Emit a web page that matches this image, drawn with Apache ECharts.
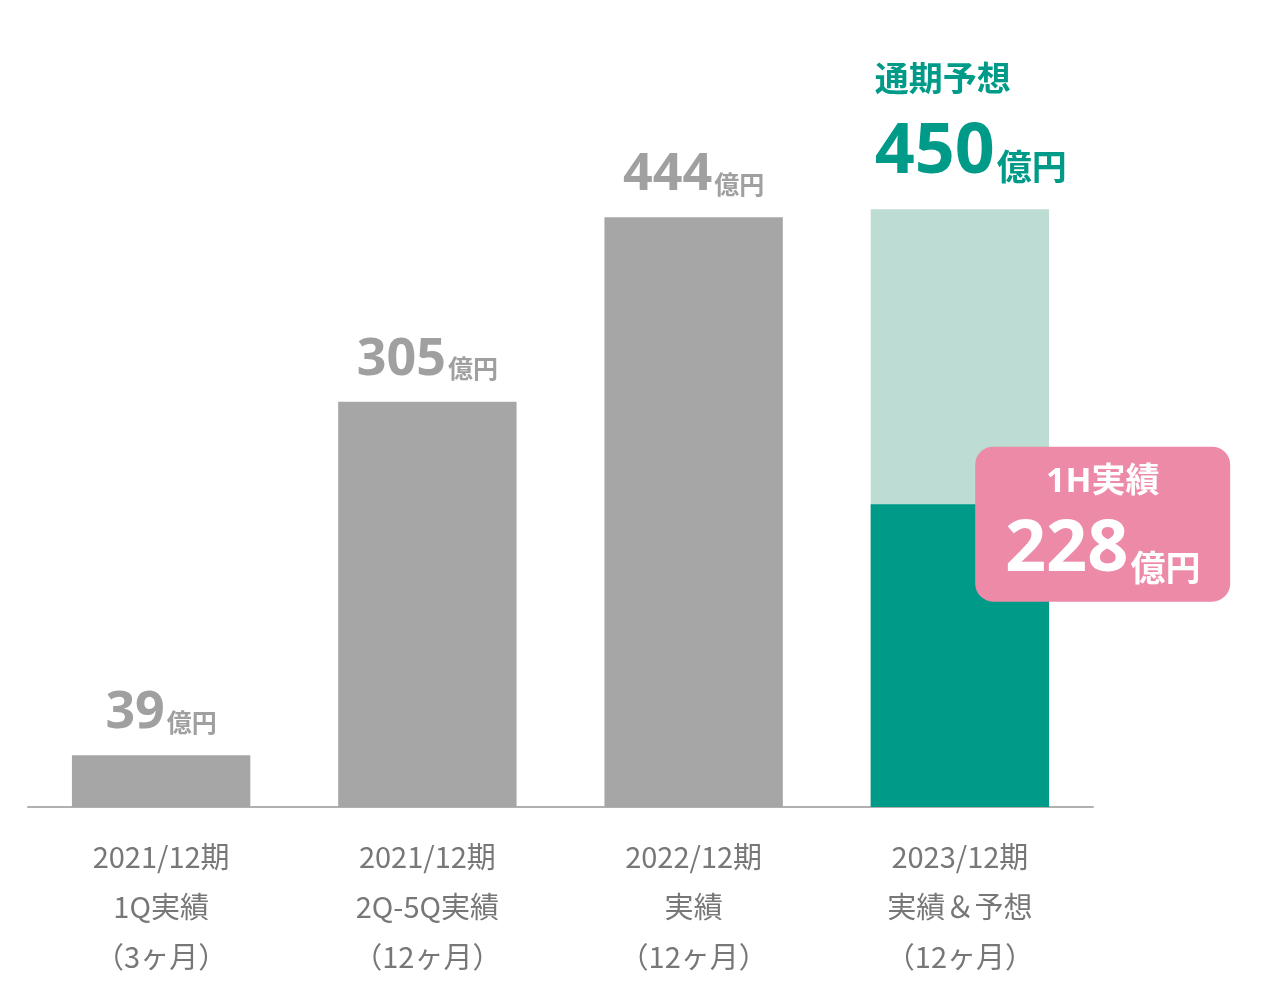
<!DOCTYPE html>
<html><head><meta charset="utf-8">
<script src="https://cdn.jsdelivr.net/npm/echarts@6/dist/echarts.min.js"></script>
<style>html,body{margin:0;padding:0;background:#fff}#c{width:1279px;height:998px}</style>
</head><body><div id="c"></div>
<script>
const categories = [
  '2021/12期\n1Q実績\n（3ヶ月）',
  '2021/12期\n2Q-5Q実績\n（12ヶ月）',
  '2022/12期\n実績\n（12ヶ月）',
  '2023/12期\n実績＆予想\n（12ヶ月）'
];
const totals = [39, 305, 444, 450];
const firstHalf = [null, null, null, 228];
const unit = '億円';
const forecastTitle = '通期予想';
const firstHalfTitle = '1H実績';

const GREY = '#a6a6a6', TEAL = '#009b88', LIGHT = '#bddcd4', PINK = '#ec8aa8';
const FF = '"Open Sans","Noto Sans CJK JP",sans-serif';
const last = totals.length - 1;

const chart = echarts.init(document.getElementById('c'));
chart.setOption({
  animation: false,
  grid: { left: 28, right: 186, top: 10, bottom: 191 },
  xAxis: {
    type: 'category', data: categories,
    axisLine: { lineStyle: { color: '#b0b0b0', width: 2 } },
    axisTick: { show: false },
    axisLabel: { color: '#777777', fontSize: 29, lineHeight: 50, margin: 25, fontWeight: 'normal',
      fontFamily: '"Noto Sans CJK JP",sans-serif' }
  },
  yAxis: { type: 'value', min: 0, max: 600, show: false, splitLine: { show: false } },
  series: [
    {
      type: 'bar', barWidth: '67%', barGap: '-100%',
      data: totals.map((v, i) => ({
        value: v,
        itemStyle: { color: i === last ? LIGHT : GREY },
        label: i === last ? {
          show: true, position: [4, -16], align: 'left', verticalAlign: 'bottom',
          formatter: '{t|' + forecastTitle + '}\n{n|{c}}{u|' + unit + '}',
          rich: {
            t: { color: TEAL, fontSize: 34, fontWeight: 'bold', fontFamily: FF, lineHeight: 64 },
            n: { color: TEAL, fontSize: 70, fontWeight: 'bold', fontFamily: FF, lineHeight: 80 },
            u: { color: TEAL, fontSize: 35, fontWeight: 'bold', fontFamily: FF, verticalAlign: 'bottom', padding: [0, 0, 6, 2] }
          }
        } : undefined
      })),
      label: {
        show: true, position: 'top', distance: 12,
        formatter: '{n|{c}}{u|' + unit + '}',
        rich: {
          n: { color: '#a0a0a0', fontSize: 52, fontWeight: 'bold', fontFamily: FF, lineHeight: 60 },
          u: { color: '#a0a0a0', fontSize: 25, fontWeight: 'bold', fontFamily: FF, verticalAlign: 'bottom', padding: [0, 0, 6, 2] }
        }
      }
    },
    {
      type: 'bar', barWidth: '67%',
      data: firstHalf,
      itemStyle: { color: TEAL },
      label: {
        show: true, position: [232, 20], align: 'center', verticalAlign: 'middle',
        backgroundColor: PINK, borderRadius: 18, width: 255,
        padding: [9, 0, 11, 0],
        formatter: '{a|' + firstHalfTitle + '}\n{n|{c}}{u|' + unit + '}',
        rich: {
          a: { color: '#fff', fontSize: 34, fontWeight: 'bold', fontFamily: FF, lineHeight: 54 },
          n: { color: '#fff', fontSize: 72, fontWeight: 'bold', fontFamily: FF, lineHeight: 81 },
          u: { color: '#fff', fontSize: 35, fontWeight: 'bold', fontFamily: FF, verticalAlign: 'bottom', padding: [0, 0, 2, 2] }
        }
      }
    }
  ]
});
</script></body></html>
